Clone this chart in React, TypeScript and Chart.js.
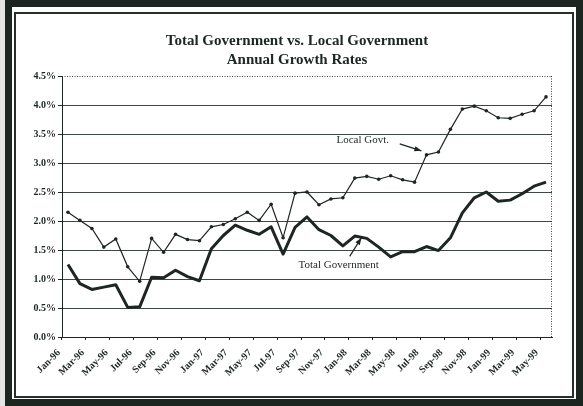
import React, { useEffect, useRef } from "react";
import { Chart, registerables } from "chart.js";

Chart.register(...registerables);

const titleLines = ["Total Government vs. Local Government", "Annual Growth Rates"];

const months = [
  "Jan-96","Feb-96","Mar-96","Apr-96","May-96","Jun-96","Jul-96","Aug-96","Sep-96","Oct-96","Nov-96","Dec-96",
  "Jan-97","Feb-97","Mar-97","Apr-97","May-97","Jun-97","Jul-97","Aug-97","Sep-97","Oct-97","Nov-97","Dec-97",
  "Jan-98","Feb-98","Mar-98","Apr-98","May-98","Jun-98","Jul-98","Aug-98","Sep-98","Oct-98","Nov-98","Dec-98",
  "Jan-99","Feb-99","Mar-99","Apr-99","May-99",
];

const localGovt = [
  2.15, 2.01, 1.87, 1.55, 1.69, 1.21, 0.96, 1.70, 1.46, 1.77, 1.68, 1.66,
  1.90, 1.94, 2.04, 2.15, 2.01, 2.29, 1.71, 2.48, 2.50, 2.28, 2.38, 2.40,
  2.74, 2.77, 2.72, 2.78, 2.71, 2.67, 3.14, 3.19, 3.58, 3.93, 3.98, 3.90,
  3.78, 3.77, 3.84, 3.90, 4.14,
];

const totalGovt = [
  1.25, 0.92, 0.82, 0.86, 0.90, 0.51, 0.52, 1.03, 1.02, 1.15, 1.04, 0.97,
  1.52, 1.75, 1.93, 1.84, 1.77, 1.90, 1.43, 1.89, 2.07, 1.85, 1.75, 1.57,
  1.74, 1.70, 1.55, 1.38, 1.47, 1.47, 1.56, 1.49, 1.71, 2.14, 2.40, 2.50,
  2.34, 2.36, 2.47, 2.60, 2.67,
];

const yTicks = [0, 0.5, 1, 1.5, 2, 2.5, 3, 3.5, 4, 4.5];

// annotation anchors in data units: [category index, value]
const localLabel = { text: "Local Govt.", at: [24.66, 3.39], from: [27.76, 3.33], to: [29.57, 3.21] };
const totalLabel = { text: "Total Government", at: [22.65, 1.24], from: [23.57, 1.39], to: [24.55, 1.71] };

const ink = "#1d2621";
const gridInk = "rgba(40,52,45,0.9)";
const serif = '"Liberation Serif", "Times New Roman", serif';

function arrow(ctx: CanvasRenderingContext2D, x1: number, y1: number, x2: number, y2: number) {
  ctx.beginPath();
  ctx.moveTo(x1, y1);
  ctx.lineTo(x2, y2);
  ctx.stroke();
  const ang = Math.atan2(y2 - y1, x2 - x1);
  const len = 7, w = 2.6;
  ctx.beginPath();
  ctx.moveTo(x2, y2);
  ctx.lineTo(x2 - len * Math.cos(ang) + w * Math.sin(ang), y2 - len * Math.sin(ang) - w * Math.cos(ang));
  ctx.lineTo(x2 - len * Math.cos(ang) - w * Math.sin(ang), y2 - len * Math.sin(ang) + w * Math.cos(ang));
  ctx.closePath();
  ctx.fill();
}

const decor = {
  id: "decor",
  afterDraw(chart: any) {
    const { ctx, chartArea, scales } = chart;
    const { left, right, top, bottom } = chartArea;
    const x = scales.x, y = scales.y;
    const px = (i: number) => {
      const a = Math.floor(i);
      const b = Math.min(a + 1, months.length - 1);
      const pa = x.getPixelForValue(a), pb = x.getPixelForValue(b);
      return pa + (pb - pa) * (i - a);
    };
    const py = (v: number) => y.getPixelForValue(v);
    ctx.save();
    // dotted plot border (top & right)
    ctx.strokeStyle = gridInk;
    ctx.lineWidth = 1;
    ctx.setLineDash([1, 1.5]);
    ctx.beginPath();
    ctx.moveTo(left, Math.round(top) + 0.5);
    ctx.lineTo(right, Math.round(top) + 0.5);
    ctx.moveTo(Math.round(right) - 0.5, top);
    ctx.lineTo(Math.round(right) - 0.5, bottom);
    ctx.stroke();
    ctx.setLineDash([]);
    // title
    ctx.fillStyle = ink;
    ctx.textAlign = "center";
    ctx.textBaseline = "middle";
    ctx.font = `bold 15px ${serif}`;
    ctx.fillText(titleLines[0], 297, 41);
    ctx.fillText(titleLines[1], 297, 60);
    // annotations
    ctx.font = `11px ${serif}`;
    ctx.strokeStyle = ink;
    ctx.lineWidth = 1.2;
    for (const a of [localLabel, totalLabel]) {
      ctx.fillText(a.text, px(a.at[0]), py(a.at[1]));
      arrow(ctx, px(a.from[0]), py(a.from[1]), px(a.to[0]), py(a.to[1]));
    }
    ctx.restore();
  },
};

export default function App() {
  const ref = useRef<HTMLCanvasElement | null>(null);
  useEffect(() => {
    if (!ref.current) return;
    const chart = new Chart(ref.current, {
      type: "line",
      data: {
        labels: months,
        datasets: [
          {
            label: "Local Govt.",
            data: localGovt,
            borderColor: ink,
            backgroundColor: ink,
            borderWidth: 1.2,
            pointRadius: 1.8,
            pointBackgroundColor: ink,
            pointBorderWidth: 0,
            tension: 0,
          },
          {
            label: "Total Government",
            data: totalGovt,
            borderColor: ink,
            backgroundColor: ink,
            borderWidth: 3,
            pointRadius: 0,
            tension: 0,
            borderJoinStyle: "round",
          },
        ],
      },
      options: {
        responsive: false,
        animation: false,
        layout: { padding: { top: 76, right: 31, left: 0, bottom: 0 } },
        plugins: { legend: { display: false }, title: { display: false }, tooltip: { enabled: false } },
        scales: {
          x: {
            offset: true,
            afterFit: (s: any) => { s.height = 69; },
            grid: {
              offset: true,
              drawOnChartArea: false,
              drawTicks: true,
              tickLength: 3,
              tickColor: (c: any) => (c.index % 2 === 0 ? ink : "rgba(0,0,0,0)"),
            },
            border: { display: true, color: ink, width: 1 },
            ticks: {
              autoSkip: false,
              maxRotation: 45,
              minRotation: 45,
              padding: 7,
              labelOffset: -9,
              color: ink,
              font: { family: serif, size: 10, weight: "bold" },
              callback: (_v: any, i: number) => (i % 2 === 0 ? months[i] : ""),
            },
          },
          y: {
            min: 0,
            max: 4.5,
            afterFit: (s: any) => { s.width = 62; },
            afterBuildTicks: (s: any) => { s.ticks = yTicks.map((v) => ({ value: v })); },
            grid: {
              color: (c: any) => (c.tick && c.tick.value === 4.5 ? "rgba(0,0,0,0)" : gridInk),
              lineWidth: 1,
              tickLength: 4,
              tickColor: ink,
            },
            border: { display: true, color: ink, width: 1 },
            ticks: {
              padding: 2,
              color: ink,
              font: { family: serif, size: 10, weight: "bold" },
              callback: (v: any) => Number(v).toFixed(1) + "%",
            },
          },
        },
      },
      plugins: [decor],
    });
    return () => chart.destroy();
  }, []);

  return (
    <div style={{ position: "fixed", left: 0, top: 0, width: 583, height: 406, background: "#e4e4e4", overflow: "hidden" }}>
      <div style={{ position: "absolute", left: 5, top: 0, width: 578, height: 406, boxSizing: "border-box", border: "7px solid #1c2520", background: "#fff" }} />
      <div style={{ position: "absolute", left: 14, top: 12, width: 560, height: 386, boxSizing: "border-box", border: "2px solid #26302a" }} />
      <canvas ref={ref} width={583} height={406} style={{ position: "absolute", left: 0, top: 0, width: 583, height: 406 }} />
    </div>
  );
}
